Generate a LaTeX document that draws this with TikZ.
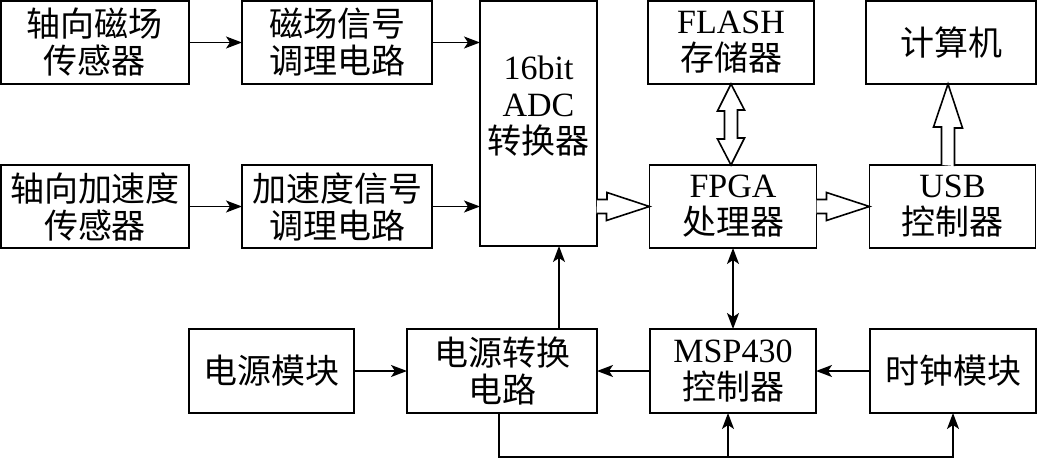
\documentclass[tikz,border=0pt]{standalone}
\usepackage{fontspec}
\setmainfont{Liberation Serif}
\newfontfamily\cjk{Noto Sans CJK SC}
\usetikzlibrary{positioning,arrows.meta}

\begin{document}
\begin{tikzpicture}[
    x=1pt, y=1pt,
    block/.style={rectangle, draw=black, line width=1.8pt, inner sep=0pt, outer sep=0pt, minimum height=83pt, align=center, font=\fontsize{34pt}{37pt}\selectfont\cjk},
    arrow/.style={-{Stealth[length=16pt, width=12pt, inset=4pt]}, line width=1.6pt},
    dblarrow/.style={{Stealth[length=16pt, width=12pt, inset=4pt]}-{Stealth[length=16pt, width=12pt, inset=4pt]}, line width=1.6pt},
    hollow/.style={line width=1.6pt, line join=miter, fill=white}
]
    \useasboundingbox (0,0) rectangle (1037,-458);

    % first row
    \node[block, minimum width=188pt] (mag) at (95,-42.5) {轴向磁场\\传感器};
    \node[block, minimum width=190pt, right=53pt of mag] (magc) {磁场信号\\调理电路};
    \node[block, minimum width=117pt, minimum height=245pt, right=48pt of magc.north east, anchor=north west,
          label={[font=\fontsize{34pt}{37pt}\selectfont\cjk, align=center, yshift=17pt]center:\textrm{16bit}\\\textrm{ADC}\\转换器}] (adc) {};
    \node[block, minimum width=166pt, right=51pt of adc.north east, anchor=north west] (flash) {\textrm{FLASH}\\存储器};
    \node[block, minimum width=170pt, right=52pt of flash] (pc) {计算机};

    % second row
    \node[block, minimum width=188pt, below=81pt of mag] (acc) {轴向加速度\\传感器};
    \node[block, minimum width=190pt, below=81pt of magc] (accc) {加速度信号\\调理电路};
    \node[block, minimum width=167pt, below=81pt of flash, xshift=2pt] (fpga) {\textrm{FPGA}\\处理器};
    \node[block, minimum width=166pt, right=53pt of fpga] (usb) {\textrm{USB}\\控制器};

    % third row
    \node[block, minimum width=166pt, minimum height=84pt, below=81pt of fpga] (msp) {\textrm{MSP430}\\控制器};
    \node[block, minimum width=190pt, minimum height=84pt, left=53pt of msp] (conv) {电源转换\\电路};
    \node[block, minimum width=165pt, minimum height=84pt, left=53pt of conv] (pwr) {电源模块};
    \node[block, minimum width=166pt, minimum height=84pt, right=54pt of msp] (clk) {时钟模块};

    % signal arrows
    \draw[arrow] (mag) -- (magc);
    \draw[arrow] (magc) -- (magc -| adc.west);
    \draw[arrow] (acc) -- (accc);
    \draw[arrow] (accc) -- (accc -| adc.west);
    \draw[arrow] (pwr) -- (conv);
    \draw[arrow] (msp) -- (conv);
    \draw[arrow] (clk) -- (msp);
    \coordinate (up) at ([xshift=57pt]conv.north);
    \draw[arrow] (up) -- (up |- adc.south);
    \draw[dblarrow] (fpga) -- (msp);

    % power bus
    \draw[arrow] ([xshift=-3pt]conv.south) -- ++(0,-44) coordinate (bus) -| (clk.south);
    \coordinate (mspin) at ([xshift=-5pt]msp.south);
    \draw[arrow] (bus -| mspin) -- (mspin);

    % data arrows
    \draw[hollow] (adc.east |- fpga.west) ++(0,7) -- ++(10,0) -- ++(0,7) -- (fpga.west) -- ++(-43,-14) -- ++(0,7) -- ++(-10,0);
    \draw[hollow] (fpga.east) ++(0,7) -- ++(10,0) -- ++(0,7) -- (usb.west) -- ++(-43,-14) -- ++(0,7) -- ++(-10,0);
    \coordinate (uo) at ([xshift=-4.5pt]usb.north);
    \draw[hollow] (uo) ++(-6.5,0) -- ++(0,38) -- ++(-8,0) -- (uo |- pc.south) -- ++(14.5,-44) -- ++(-8,0) -- ++(0,-38);
    \draw[hollow] (flash.south) -- ++(-13.5,-27) -- ++(7,0) -- ++(0,-28) -- ++(-7,0) -- (flash.south |- fpga.north)
        -- ++(13.5,27) -- ++(-7,0) -- ++(0,28) -- ++(7,0) -- cycle;
\end{tikzpicture}
\end{document}
